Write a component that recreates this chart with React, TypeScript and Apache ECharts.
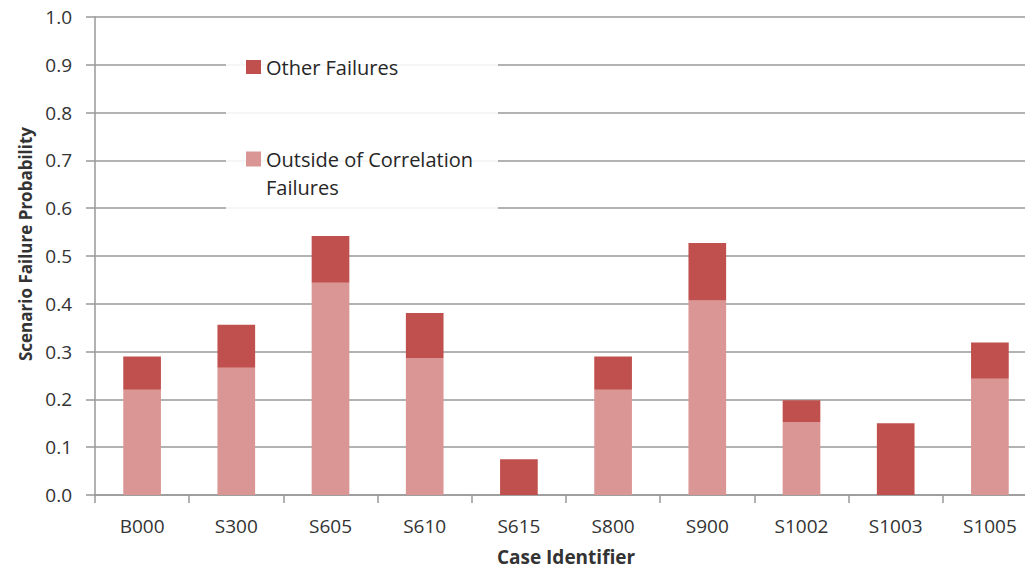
import React, { useEffect, useRef } from "react";
import * as echarts from "echarts";

const categories = ["B000", "S300", "S605", "S610", "S615", "S800", "S900", "S1002", "S1003", "S1005"];
const outsideCorrelation = [0.22, 0.266, 0.444, 0.286, 0, 0.22, 0.407, 0.152, 0, 0.243];
const otherFailures = [0.07, 0.09, 0.098, 0.095, 0.075, 0.07, 0.12, 0.046, 0.15, 0.076];
const seriesNames = ["Outside of Correlation Failures", "Other Failures"];
const yAxisTitle = "Scenario Failure Probability";
const xAxisTitle = "Case Identifier";

const FONT = "'Open Sans', 'Noto Sans', sans-serif";
const GRID_COLOR = "#999999";
const TEXT_COLOR = "#333333";

export default function App() {
  const ref = useRef<HTMLDivElement>(null);
  useEffect(() => {
    if (!ref.current) return;
    const chart = echarts.init(ref.current, undefined, { renderer: "svg" });
    chart.setOption({
      animation: false,
      backgroundColor: "#ffffff",
      textStyle: { fontFamily: FONT },
      grid: { left: 95, top: 17, width: 942, height: 482, containLabel: false },
      graphic: [
        {
          type: "rect",
          z: 1,
          shape: { x: 226, y: 36, width: 272, height: 198 },
          style: { fill: "rgba(255,255,255,0.88)" },
          silent: true,
        },
      ],
      legend: [
        {
          data: [seriesNames[1]],
          left: 246,
          top: 55,
          padding: 0,
          itemWidth: 15,
          itemHeight: 14,
          icon: "rect",
          z: 5,
          textStyle: { fontFamily: FONT, fontSize: 20, color: "#262626", lineHeight: 24 },
        },
        {
          data: [seriesNames[0]],
          left: 246,
          top: 117,
          padding: 0,
          itemWidth: 15,
          itemHeight: 15,
          icon: "rect",
          z: 5,
          formatter: () => " \nOutside of Correlation\nFailures",
          textStyle: {
            fontFamily: FONT,
            fontSize: 20,
            color: "#262626",
            lineHeight: 28,
          },
        },
      ],
      xAxis: {
        type: "category",
        data: categories,
        name: xAxisTitle,
        nameLocation: "middle",
        nameGap: 52,
        nameTextStyle: { fontFamily: FONT, fontSize: 19, fontWeight: "bold", color: TEXT_COLOR },
        axisLine: { show: true, lineStyle: { color: GRID_COLOR, width: 1.5 } },
        axisTick: { show: true, length: 8, interval: 0, lineStyle: { color: GRID_COLOR, width: 1.5 } },
        axisLabel: { fontFamily: FONT, fontSize: 19, color: TEXT_COLOR, margin: 21, interval: 0 },
        splitLine: { show: false },
      },
      yAxis: {
        type: "value",
        min: 0,
        max: 1,
        interval: 0.1,
        name: yAxisTitle,
        nameLocation: "middle",
        nameGap: 58,
        nameTextStyle: {
          fontFamily: FONT,
          fontSize: 17,
          fontWeight: "bold",
          color: TEXT_COLOR,
          padding: [0, 0, 0, 24],
        },
        axisLine: { show: true, lineStyle: { color: GRID_COLOR, width: 1.5 } },
        axisTick: { show: true, length: 9, lineStyle: { color: GRID_COLOR, width: 1.5 } },
        axisLabel: {
          fontFamily: FONT,
          fontSize: 19,
          color: TEXT_COLOR,
          margin: 23,
          formatter: (v: number) => v.toFixed(1),
        },
        splitLine: { show: true, lineStyle: { color: GRID_COLOR, width: 1.5 } },
      },
      series: [
        {
          name: seriesNames[0],
          type: "bar",
          stack: "total",
          barWidth: "40%",
          data: outsideCorrelation,
          itemStyle: { color: "#D99694" },
        },
        {
          name: seriesNames[1],
          type: "bar",
          stack: "total",
          barWidth: "40%",
          data: otherFailures,
          itemStyle: { color: "#C0504D" },
        },
      ],
    });
    return () => chart.dispose();
  }, []);
  return (
    <div
      style={{
        position: "fixed",
        left: 0,
        top: 0,
        width: 1025,
        height: 571,
        overflow: "hidden",
        background: "#ffffff",
      }}
    >
      <div ref={ref} style={{ width: 1060, height: 571 }} />
    </div>
  );
}
